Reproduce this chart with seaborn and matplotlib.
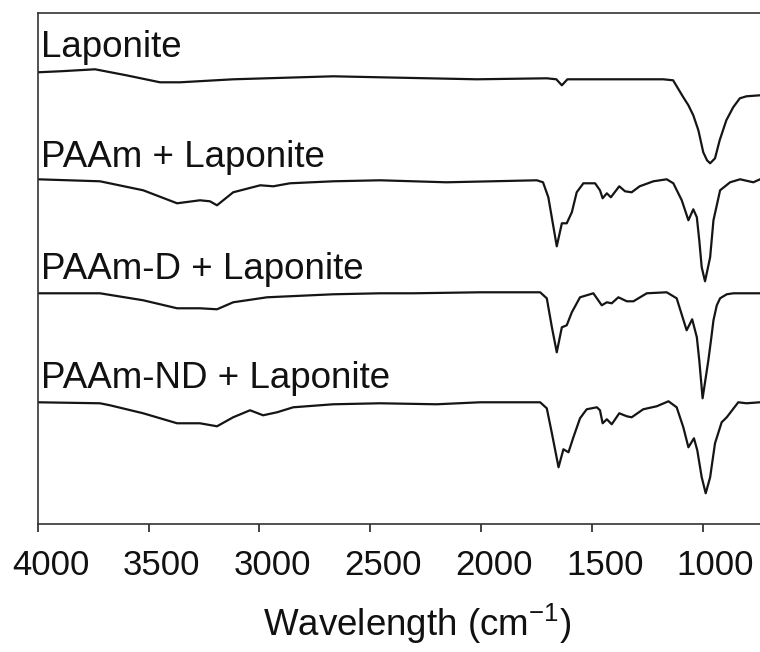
import matplotlib
matplotlib.use("Agg")
import matplotlib.pyplot as plt
import matplotlib.transforms as mtransforms
import numpy as np
import pandas as pd
import seaborn as sns

# FTIR traces (arbitrary transmittance units, stacked)
laponite_wn = [4000, 3900, 3741, 3600, 3448, 3358, 3118, 2667, 2455, 2019,
               1703, 1660, 1635, 1610, 1584, 1178, 1133, 1087, 1064, 1042,
               1019, 997, 980, 966, 944, 923, 893, 862, 832, 802, 741]
laponite_t = [452, 453, 455, 449, 442, 442, 445, 448, 447, 445,
              446, 445, 439, 445, 445, 445, 444, 427, 419, 409,
              394, 372, 364, 361, 366, 384, 404, 417, 426, 428, 429]

paam_wn = [4000, 3719, 3524, 3371, 3268, 3223, 3191, 3118, 2996, 2937,
           2862, 2667, 2455, 2155, 1748, 1720, 1696, 1658, 1635, 1613,
           1590, 1568, 1538, 1485, 1463, 1451, 1432, 1414, 1376, 1350,
           1320, 1284, 1222, 1162, 1132, 1094, 1064, 1042, 1026, 1015,
           1004, 989, 966, 951, 921, 876, 831, 771, 741]
paam_t = [345, 343, 334, 321, 324, 323, 319, 332, 339, 338,
          341, 343, 344, 342, 344, 342, 327, 278, 301, 301,
          312, 332, 341, 341, 334, 326, 331, 327, 338, 333,
          332, 338, 343, 345, 341, 324, 304, 315, 307, 284,
          257, 243, 267, 304, 334, 342, 345, 342, 345]

paamd_wn = [4000, 3719, 3524, 3371, 3268, 3191, 3118, 2965, 2667, 2455,
            2305, 2004, 1733, 1703, 1680, 1658, 1635, 1613, 1590, 1553,
            1493, 1455, 1432, 1410, 1380, 1342, 1312, 1252, 1162, 1117,
            1072, 1047, 1026, 1015, 1000, 987, 974, 961, 951, 936,
            921, 891, 861, 741]
paamd_t = [231, 231, 224, 216, 216, 215, 222, 227, 230, 231,
           231, 232, 232, 226, 197, 172, 197, 199, 212, 227,
           231, 219, 222, 221, 227, 223, 223, 231, 232, 226,
           194, 205, 187, 164, 126, 145, 164, 186, 204, 219,
           226, 230, 231, 231]

paamnd_wn = [4000, 3719, 3674, 3524, 3371, 3268, 3191, 3118, 3042, 2983,
             2920, 2847, 2667, 2455, 2200, 2004, 1733, 1703, 1680, 1650,
             1628, 1605, 1583, 1553, 1523, 1477, 1463, 1451, 1432, 1410,
             1376, 1342, 1320, 1268, 1207, 1154, 1117, 1087, 1064, 1039,
             1024, 1004, 986, 966, 944, 914, 891, 839, 802, 741]
paamnd_t = [122, 121, 119, 111, 101, 101, 98, 107, 114, 109,
            112, 117, 120, 121, 120, 122, 122, 116, 91, 57,
            75, 72, 87, 106, 115, 117, 114, 101, 105, 100,
            111, 108, 107, 115, 118, 123, 117, 97, 77, 86,
            74, 47, 31, 47, 81, 102, 107, 122, 121, 122]

samples = ["Laponite", "PAAm + Laponite", "PAAm-D + Laponite", "PAAm-ND + Laponite"]
xticks = [4000, 3500, 3000, 2500, 2000, 1500, 1000]


def main():
    sns.set_theme(style="ticks")
    plt.rcParams["font.family"] = ["Liberation Sans", "DejaVu Sans"]
    plt.rcParams["mathtext.default"] = "regular"

    traces = [(laponite_wn, laponite_t), (paam_wn, paam_t),
              (paamd_wn, paamd_t), (paamnd_wn, paamnd_t)]
    frames = []
    for name, (wn, t) in zip(samples, traces):
        frames.append(pd.DataFrame({"wn": wn, "t": t, "sample": name}))
    df = pd.concat(frames, ignore_index=True)

    fig = plt.figure(figsize=(7.6, 6.52), dpi=100)
    ax = fig.add_axes([0.0496, 0.1959, 0.9504, 0.7837])
    sns.lineplot(data=df, x="wn", y="t", hue="sample", units="sample",
                 estimator=None, palette=["#151515"] * 4, linewidth=1.6,
                 legend=False, ax=ax)

    ax.set_xlim(4000, 741)
    ax.set_ylim(0, 511)
    ax.set_xticks(xticks)
    ax.set_xticklabels([str(v) for v in xticks])
    ax.set_yticks([])
    ax.set_ylabel("")
    ax.set_xlabel("Wavelength (cm$^{-1}$)", fontsize=26.5, color="#111111")
    ax.xaxis.set_label_coords(0.525, -0.152)
    ax.tick_params(axis="x", direction="out", length=6, width=1.1,
                   pad=12, labelsize=25, colors="#111111")

    # labels in the source sit slightly right of their ticks
    shift = mtransforms.ScaledTranslation(0.13, 0, fig.dpi_scale_trans)
    for lab in ax.get_xticklabels():
        lab.set_transform(lab.get_transform() + shift)

    for side in ("left", "top", "bottom"):
        ax.spines[side].set_color("#333333")
        ax.spines[side].set_linewidth(1.2)
    ax.spines["right"].set_visible(False)

    label_y = [0.915, 0.700, 0.480, 0.266]
    for name, y in zip(samples, label_y):
        ax.text(0.005, y, name, transform=ax.transAxes, va="baseline",
                ha="left", fontsize=26.5, color="#111111")

    fig.savefig("out.png", dpi=100)
    plt.close(fig)


if __name__ == "__main__":
    main()
